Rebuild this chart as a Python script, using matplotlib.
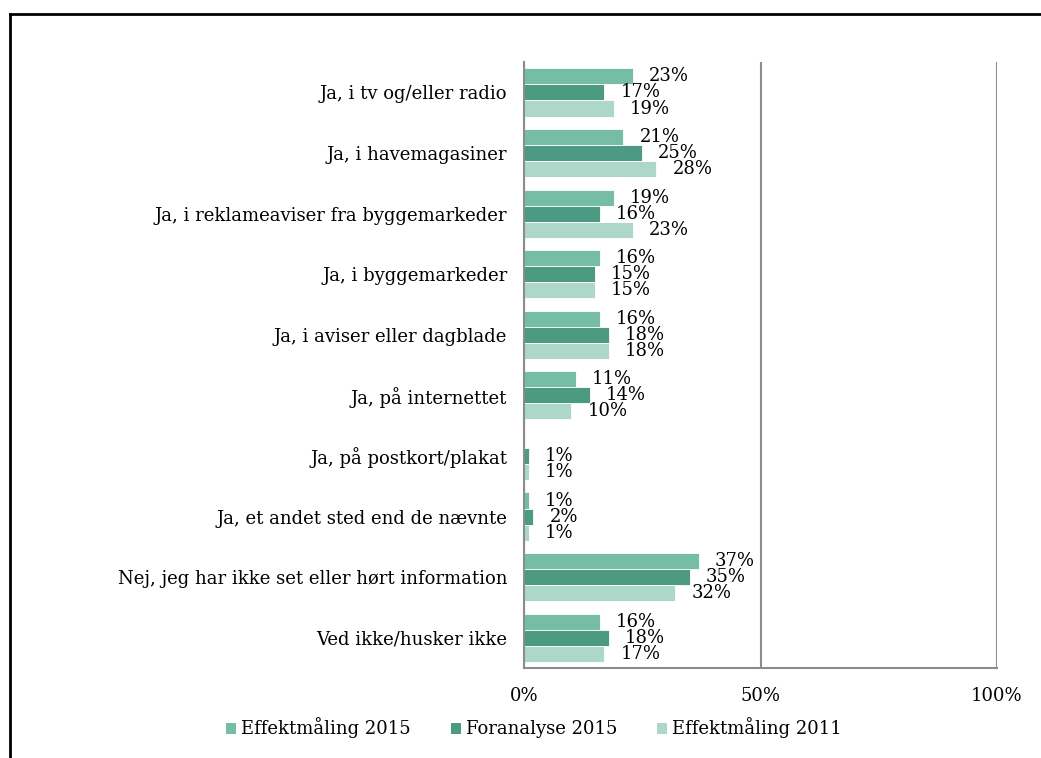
import matplotlib.pyplot as plt
import matplotlib as mpl
from matplotlib.lines import Line2D
from matplotlib.patches import Patch
import numpy as np

mpl.use("Agg")

categories = [
    "Ja, i tv og/eller radio",
    "Ja, i havemagasiner",
    "Ja, i reklameaviser fra byggemarkeder",
    "Ja, i byggemarkeder",
    "Ja, i aviser eller dagblade",
    "Ja, på internettet",
    "Ja, på postkort/plakat",
    "Ja, et andet sted end de nævnte",
    "Nej, jeg har ikke set eller hørt information",
    "Ved ikke/husker ikke",
]
series_names = ["Effektmåling 2015", "Foranalyse 2015", "Effektmåling 2011"]
effekt_2015 = [23, 21, 19, 16, 16, 11, 0.3, 1, 37, 16]
foranalyse_2015 = [17, 25, 16, 15, 18, 14, 1, 2, 35, 18]
effekt_2011 = [19, 28, 23, 15, 18, 10, 1, 1, 32, 17]
xticks = [0, 50, 100]
xtick_labels = ["0%", "50%", "100%"]

colors = ["#76bda6", "#4b9a81", "#add7c9"]
plt.rcParams["font.family"] = ["DejaVu Serif"]

fig = plt.figure(figsize=(10.41, 7.58), dpi=100)
ax = fig.add_axes([0.5034, 0.1187, 0.4543, 0.7993])
ax.set_axisbelow(True)

n = len(categories)
y = np.arange(n)
h = 0.265
offsets = [-h, 0, h]
all_series = [effekt_2015, foranalyse_2015, effekt_2011]

for vals, off, col in zip(all_series, offsets, colors):
    ax.barh(y + off, vals, height=h, color=col, edgecolor="white",
            linewidth=0.6, zorder=2)
    for yi, v in zip(y, vals):
        if v < 0.5:
            continue
        ax.annotate(f"{v:.0f}%", xy=(v, yi + off), xytext=(16, 0),
                    textcoords="offset pixels", va="center", ha="left",
                    fontsize=13, color="black", zorder=4)

ax.set_ylim(n - 0.5, -0.5)
ax.set_xlim(0, 100)
ax.set_yticks(y)
ax.set_yticklabels(categories, fontsize=13)
ax.set_xticks(xticks)
ax.set_xticklabels(xtick_labels, fontsize=13)
ax.tick_params(axis="x", length=0, pad=14)
ax.tick_params(axis="y", length=0, pad=12)

ax.xaxis.grid(True, color="#8c8c8c", linewidth=1.5)
for side in ["top", "right"]:
    ax.spines[side].set_visible(False)
for side in ["left", "bottom"]:
    ax.spines[side].set_color("#8c8c8c")
    ax.spines[side].set_linewidth(1.5)

handles = [Patch(facecolor=c, edgecolor="none") for c in colors]
fig.legend(handles, series_names, loc="center", bbox_to_anchor=(0.513, 0.0396),
           ncol=3, frameon=False, fontsize=13, handlelength=0.55,
           handleheight=0.55, handletextpad=0.3, columnspacing=2.2)

# outer frame (only top and left visible)
fx = 9.5 / 1041
fy = 1 - 13.5 / 758
fig.add_artist(Line2D([fx, fx], [fy, -0.1], color="black", lw=2,
                      transform=fig.transFigure))
fig.add_artist(Line2D([fx, 1.1], [fy, fy], color="black", lw=2,
                      transform=fig.transFigure))

fig.savefig("out.png", dpi=100)
